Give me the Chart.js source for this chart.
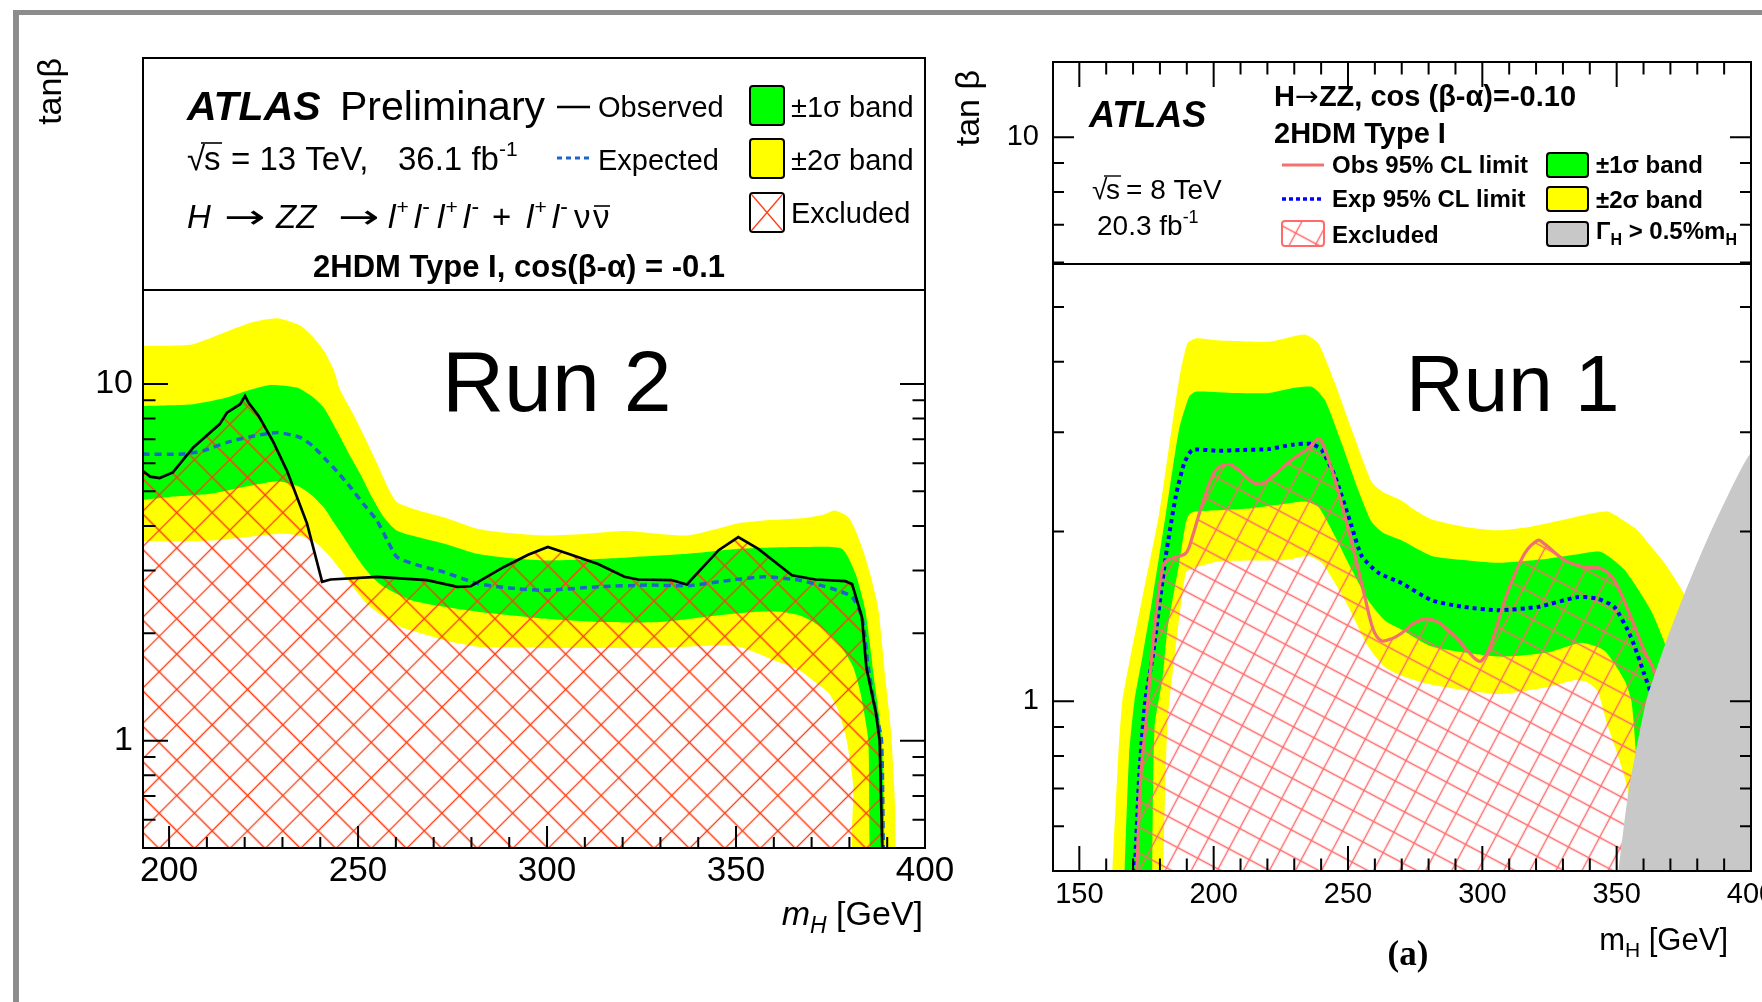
<!DOCTYPE html>
<html>
<head>
<meta charset="utf-8">
<script src="https://cdn.jsdelivr.net/npm/chart.js@4.4.1/dist/chart.umd.min.js"></script>
<style>
  html, body { margin: 0; padding: 0; background: #fff; }
  body { width: 1762px; height: 1002px; position: relative; overflow: hidden; }
  canvas { position: absolute; left: 0; top: 0; }
  #edge { position: absolute; left: 13px; top: 10px; width: 1800px; height: 1100px;
          border-top: 5px solid #8c8c8c; border-left: 6px solid #8c8c8c; }
</style>
</head>
<body>
<div id="edge"></div>
<canvas id="run2" width="1762" height="1002"></canvas>
<canvas id="run1" width="1762" height="1002"></canvas>
<script>
const F = '"Liberation Sans", Arial, Helvetica, sans-serif';
const TAN_FLOOR = 0.45;

// ---- Run 2: 13 TeV, 36.1 fb-1 — contours as [mH, tanβ] ----
const run2Obs = [[193,5.71],[195,5.5],[197.5,5.45],[201,5.65],[206.4,6.64],[213.4,7.72],[215.3,8.31],[218.8,8.78],[220.1,9.26],[221,8.87],[223.7,8.14],[227.5,6.9],[231.2,5.71],[236.5,4.06],[240.5,2.79],[242.7,2.83],[255,2.88],[268.3,2.82],[276.3,2.70],[279.8,2.71],[288.6,3.07],[295,3.32],[300.2,3.49],[306,3.33],[313.5,3.13],[320.5,2.88],[324.1,2.83],[332.9,2.82],[337,2.74],[345.4,3.42],[350.6,3.72],[355.9,3.45],[364.8,2.91],[371,2.83],[378.9,2.80],[380.7,2.75],[383.3,2.22],[384.5,1.6],[387,1.2],[388,1.0],[388.8,0.45]];
const run2Exp = [[193,6.36],[203.5,6.36],[209,6.5],[215.3,6.86],[221,7.1],[228.6,7.31],[234.7,7.08],[238,6.7],[241.8,6.09],[245,5.6],[248,5.13],[251.5,4.6],[255,4.14],[258,3.6],[260.3,3.27],[266,3.1],[272.7,2.97],[281.5,2.76],[290,2.68],[299.2,2.64],[313.5,2.70],[326.7,2.73],[337.3,2.72],[348.8,2.82],[357.7,2.88],[366.5,2.82],[375.4,2.67],[380.7,2.53],[383.3,2.22],[385,1.6],[387,1.2],[388.5,1.0],[389,0.45]];
const run2Band1Up = [[193,8.68],[206.4,8.78],[215.3,9.16],[221,9.6],[226.8,9.94],[233.8,9.77],[238,9.2],[240.9,8.59],[244.4,7.39],[247.5,6.4],[250.6,5.59],[253.5,4.85],[256.8,4.23],[260.3,3.88],[266,3.72],[272.7,3.57],[281.5,3.34],[290,3.25],[299.2,3.20],[310,3.22],[322.3,3.27],[337.3,3.34],[350.6,3.45],[360,3.48],[368.3,3.49],[378,3.45],[381.6,2.94],[384.2,2.32],[386.5,1.5],[388.6,1.0],[389,0.45]];
const run2Band1Down = [[193,4.73],[200,4.82],[210.9,4.92],[220,5.15],[228.6,5.34],[233.8,5.19],[237.5,4.9],[240.9,4.51],[243.5,4.1],[246.2,3.72],[249,3.35],[251.5,3.07],[254,2.86],[256.8,2.70],[263.8,2.48],[272,2.38],[281.5,2.30],[299.2,2.20],[314,2.15],[330,2.15],[345.9,2.25],[355.5,2.30],[362,2.30],[366.6,2.25],[370.5,2.15],[374.5,2.0],[378,1.82],[381,1.61],[383,1.35],[385,1.0],[385.7,0.45]];
const run2Band2Up = [[193,12.8],[200,12.8],[206,12.9],[215,14.0],[222,14.9],[228.6,15.3],[234.7,14.6],[238,13.6],[241,12.4],[243.5,11.0],[245.3,9.6],[248.8,8.2],[252,7.0],[255,6.0],[258,5.1],[260.3,4.66],[266,4.42],[272.7,4.23],[281.5,3.93],[290,3.82],[299,3.76],[310,3.80],[320.5,3.87],[330,3.80],[337.3,3.76],[344,3.90],[350.6,4.07],[360,4.16],[368.3,4.21],[373,4.30],[376.2,4.42],[379.8,4.23],[382,3.8],[384.2,3.27],[386,2.8],[387.7,2.32],[389.5,1.5],[391.2,1.0],[391.6,0.45]];
const run2Band2Down = [[193,3.63],[200,3.62],[210.9,3.64],[220,3.72],[228.6,3.80],[233,3.78],[237.5,3.68],[240,3.5],[242.7,3.27],[245.5,3.0],[248,2.76],[250.5,2.55],[253.3,2.37],[258,2.18],[262,2.07],[266.6,2.0],[274,1.9],[282.5,1.83],[298,1.82],[315,1.82],[330,1.82],[345.9,1.85],[351,1.83],[355.5,1.76],[360,1.68],[366.6,1.58],[370.5,1.47],[374.5,1.36],[377,1.22],[379.3,1.0],[381,0.75],[381.3,0.45]];
const run2XTicks = [200, 250, 300, 350, 400];
const run2YTicks = [1, 10];

// ---- Run 1: 8 TeV, 20.3 fb-1 ----
const run1Obs = [[171,0.45],[173,0.75],[174.8,0.914],[177.9,1.34],[181.0,1.73],[182.8,1.78],[189.6,1.83],[192.1,1.96],[195.8,2.24],[200.7,2.57],[205.6,2.63],[209.3,2.57],[214.3,2.45],[218.0,2.43],[221.7,2.50],[229.1,2.68],[235.3,2.81],[239.0,2.92],[240.8,2.85],[245.2,2.46],[251.4,1.91],[256.3,1.53],[259.4,1.34],[262.4,1.28],[266.2,1.29],[269.9,1.32],[274,1.37],[278.7,1.40],[283.7,1.38],[290,1.30],[299.7,1.18],[309.6,1.57],[315.8,1.83],[320.7,1.93],[323.2,1.90],[330.6,1.78],[338.0,1.73],[344.2,1.72],[349.1,1.64],[355.3,1.41],[360.2,1.23],[363.9,1.13],[366,0.9],[368,0.45]];
const run1Exp = [[170.2,0.45],[172.3,0.74],[174.5,1.0],[177.3,1.2],[182.2,1.81],[185.9,2.31],[189.0,2.64],[192.1,2.79],[201.9,2.78],[210,2.79],[220.4,2.80],[229.1,2.85],[236.5,2.86],[240.2,2.79],[245.2,2.50],[251.4,2.04],[255.1,1.81],[261.3,1.69],[269.9,1.62],[281.2,1.51],[293,1.47],[305.9,1.45],[320.7,1.47],[335.5,1.53],[342.9,1.52],[349.1,1.47],[355.3,1.30],[360.2,1.12],[362.7,1.03],[365,0.85],[367,0.45]];
const run1Band1Up = [[166.5,0.45],[168.5,0.8],[170.5,1.0],[173.5,1.2],[177.3,1.53],[182.2,2.15],[187.1,3.03],[190.9,3.47],[193.3,3.54],[208.1,3.52],[220.4,3.52],[229.1,3.59],[236.5,3.61],[241.4,3.42],[247.6,2.87],[253.8,2.37],[258.8,2.08],[263,1.99],[269.9,1.93],[281.2,1.81],[293,1.78],[305.9,1.76],[324.4,1.79],[335,1.82],[344.2,1.84],[352.9,1.71],[362.7,1.45],[368.9,1.23],[371.4,1.09],[375,0.8],[378,0.45]];
const run1Band1Down = [[177,0.45],[178,0.9],[181,1.1],[182.8,1.34],[187.2,1.76],[189.6,2.07],[191,2.15],[193.3,2.17],[214.3,2.20],[226.6,2.24],[234,2.26],[239,2.21],[245.2,1.96],[251.4,1.71],[257.5,1.51],[263.7,1.39],[269.9,1.34],[281.2,1.25],[305.9,1.20],[324.4,1.22],[336.8,1.27],[345.4,1.23],[352.9,1.09],[355.5,1.0],[357,0.83],[359,0.45]];
const run1Band2Up = [[161.8,0.45],[164.5,0.8],[166,1.0],[168.6,1.17],[173.5,1.53],[179.7,2.15],[183.4,2.83],[187.1,3.71],[190.2,4.31],[193.3,4.40],[201.9,4.36],[210,4.35],[220.4,4.34],[226.6,4.40],[234.0,4.47],[239.0,4.31],[245.2,3.66],[251.4,3.03],[258.8,2.45],[263,2.35],[269.9,2.27],[275,2.18],[281.2,2.10],[293,2.04],[305.9,2.01],[318,2.04],[330.6,2.10],[340,2.15],[346.7,2.17],[352,2.10],[357.8,2.01],[362,1.90],[367.7,1.76],[375.1,1.55],[381,1.3],[386,1.0],[390,0.45]];
const run1Band2Down = [[181,0.45],[182.8,0.914],[185.9,1.25],[189.6,1.69],[192.1,1.72],[201.9,1.77],[226.6,1.78],[235.3,1.81],[240.2,1.76],[248.9,1.51],[257.5,1.25],[263.7,1.15],[269.9,1.11],[281.2,1.07],[305.9,1.03],[324.4,1.06],[334.3,1.09],[339.2,1.08],[343,1.04],[346.5,0.91],[350.5,0.8],[354,0.7],[356,0.45]];
const run1WideHiggs = [[349.5,0.45],[354.4,0.69],[361,1.0],[368,1.26],[375.2,1.55],[386.5,2.07],[401,2.76],[401,0.45]];
const run1XTicks = [150, 200, 250, 300, 350, 400];
const run1YTicks = [1, 10];

const yMinorTicks = [0.6, 0.7, 0.8, 0.9, 2, 3, 4, 5, 6, 7, 8, 9, 20];

// ---- helpers ----
const pts = arr => arr.map(([x, y]) => ({ x, y }));
const ring = (up, down) => pts(up.concat(down.slice().reverse()));

function area(label, data, color, order, tension = 0.2) {
  return { label, data, order, fill: 'shape', backgroundColor: color, borderColor: 'rgba(0,0,0,0)',
           borderWidth: 0, pointRadius: 0, tension };
}
function curve(label, data, color, width, dash, order, tension) {
  return { label, data: pts(data), order, fill: false, borderColor: color, borderWidth: width,
           borderDash: dash, pointRadius: 0, tension, borderCapStyle: 'butt' };
}

function hatch(color, size, angle, lw) {
  const tile = document.createElement('canvas');
  tile.width = tile.height = size;
  const g = tile.getContext('2d');
  g.strokeStyle = color;
  g.lineWidth = lw;
  g.beginPath();
  g.moveTo(0, size / 2); g.lineTo(size, size / 2);
  g.moveTo(size / 2, 0); g.lineTo(size / 2, size);
  g.stroke();
  const p = g.createPattern(tile, 'repeat');
  p.setTransform(new DOMMatrix().rotate(angle));
  return p;
}
const hatchRun2 = hatch('#ff3d14', 25, 45, 1.3);
const hatchRun1 = hatch('#ff6a6a', 23, 28, 1.4);

// text runs: [text, font, dy, family, xstretch] or a number for extra gap
function put(ctx, x, y, parts) {
  for (const part of parts) {
    if (typeof part === 'number') { x += part; continue; }
    const [text, font, dy = 0, fam = F, sx = 1] = part;
    ctx.font = `${font} ${fam}`;
    ctx.save();
    ctx.translate(x, y + dy);
    ctx.scale(sx, 1);
    ctx.fillText(text, 0, 0);
    ctx.restore();
    x += ctx.measureText(text).width * sx;
  }
  return x;
}
function measure(ctx, parts) {
  let w = 0;
  for (const part of parts) {
    if (typeof part === 'number') { w += part; continue; }
    const [text, font, , fam = F, sx = 1] = part;
    ctx.font = `${font} ${fam}`;
    w += ctx.measureText(text).width * sx;
  }
  return w;
}
function hline(ctx, x1, x2, y, lw, color = '#000', dash = []) {
  ctx.save();
  ctx.strokeStyle = color; ctx.lineWidth = lw; ctx.setLineDash(dash);
  ctx.beginPath(); ctx.moveTo(x1, y); ctx.lineTo(x2, y); ctx.stroke();
  ctx.restore();
}
function swatch(ctx, x, y, w, h, fill, stroke) {
  ctx.save();
  ctx.beginPath();
  ctx.roundRect(x, y, w, h, 3);
  ctx.fillStyle = fill; ctx.fill();
  ctx.lineWidth = 2; ctx.strokeStyle = stroke; ctx.stroke();
  ctx.restore();
}
function vtitle(ctx, text, font, x, yEnd) {
  ctx.save();
  ctx.translate(x, yEnd);
  ctx.rotate(-Math.PI / 2);
  ctx.textAlign = 'right';
  ctx.font = `${font} ${F}`;
  ctx.fillText(text, 0, 0);
  ctx.restore();
}
function leptonPairs(n) {
  const out = [];
  for (let i = 0; i < n; i++) {
    out.push(['l', 'italic 34px'], 1, ['+', '21px', -14], 5, ['l', 'italic 34px'], 1, ['-', '23px', -14], 7);
  }
  return out;
}
const ARROW = ['→', '33px', 0, '"DejaVu Sans", sans-serif', 1.5];

// inward ROOT-style ticks and the frame
function frame(o) {
  return {
    id: 'frame',
    afterDatasetsDraw(chart) {
      const { ctx, chartArea: a } = chart;
      const xs = chart.scales.x, ys = chart.scales.y;
      ctx.save();
      ctx.strokeStyle = '#000';
      ctx.lineWidth = 2;
      ctx.beginPath();
      for (let v = Math.ceil(xs.min / 10) * 10; v < xs.max - 0.01; v += 10) {
        if (v <= xs.min) continue;
        const len = o.xMajorTicks.includes(v) ? o.xMajor : o.xMinor;
        const px = xs.getPixelForValue(v);
        ctx.moveTo(px, a.bottom); ctx.lineTo(px, a.bottom - len);
        if (o.topTicks) { ctx.moveTo(px, a.top); ctx.lineTo(px, a.top + len); }
      }
      for (const v of o.yMajorTicks.concat(yMinorTicks)) {
        if (v <= ys.min || v >= ys.max) continue;
        const len = o.yMajorTicks.includes(v) ? o.yMajor : o.yMinor;
        const py = ys.getPixelForValue(v);
        ctx.moveTo(a.left, py); ctx.lineTo(a.left + len, py);
        ctx.moveTo(a.right, py); ctx.lineTo(a.right - len, py);
      }
      ctx.stroke();
      const top = o.frameTop ?? a.top;
      ctx.strokeRect(a.left, top, a.right - a.left, a.bottom - top);
      ctx.beginPath();
      ctx.moveTo(a.left, o.sepY ?? a.top); ctx.lineTo(a.right, o.sepY ?? a.top);
      ctx.stroke();
      ctx.restore();
    }
  };
}

function axes(o) {
  return {
    x: {
      type: 'linear', min: o.xMin, max: o.xMax,
      afterFit(s) { s.height = o.xHeight; s.paddingLeft = 0; s.paddingRight = 0; },
      afterBuildTicks(s) { s.ticks = o.xTicks.map(v => ({ value: v })); },
      ticks: { color: '#000', font: { family: F, size: o.xFont }, padding: o.xPad,
               autoSkip: false, maxRotation: 0, callback: v => String(v) },
      grid: { display: false, drawTicks: false }, border: { display: false }
    },
    y: {
      type: 'logarithmic', min: o.yMin, max: o.yMax,
      afterFit(s) { s.width = o.yWidth; s.paddingTop = 0; s.paddingBottom = 0; },
      afterBuildTicks(s) { s.ticks = o.yTicks.map(v => ({ value: v })); },
      ticks: { color: '#000', font: { family: F, size: o.yFont }, padding: o.yPad,
               autoSkip: false, callback: v => String(v) },
      grid: { display: false, drawTicks: false }, border: { display: false }
    }
  };
}

// ---- Run 2 panel ----
const run2Text = {
  id: 'run2Text',
  afterDraw(chart) {
    const ctx = chart.ctx;
    ctx.save();
    ctx.fillStyle = '#000';
    ctx.textBaseline = 'alphabetic';
    put(ctx, 187, 120, [['ATLAS', 'italic bold 41px']]);
    put(ctx, 340, 120, [['Preliminary', '41px']]);

    put(ctx, 187, 170, [['√', '33px']]);
    put(ctx, 204, 170, [['s', '33px']]);
    hline(ctx, 201, 222, 143, 1.6);
    put(ctx, 231, 170, [['= 13 TeV,', '33px']]);
    put(ctx, 398, 170, [['36.1 fb', '33px'], ['-1', '21px', -14]]);

    put(ctx, 187, 228, [['H', 'italic 33px']]);
    put(ctx, 224, 228, [ARROW]);
    put(ctx, 276, 228, [['ZZ', 'italic 33px']]);
    put(ctx, 338, 228, [ARROW]);
    put(ctx, 388, 228, leptonPairs(2));
    put(ctx, 492, 228, [['+', '33px']]);
    put(ctx, 526, 228, leptonPairs(1));
    put(ctx, 574, 228, [['ν', '33px']]);
    put(ctx, 593, 228, [['ν', '33px']]);
    hline(ctx, 594, 610, 206, 1.6);

    put(ctx, 313, 277, [['2HDM Type I, cos(β-α) = -0.1', 'bold 31px']]);

    hline(ctx, 557, 590, 107, 2.5);
    put(ctx, 598, 117, [['Observed', '29px']]);
    hline(ctx, 557, 590, 158, 3, '#1e64c8', [5, 4]);
    put(ctx, 598, 170, [['Expected', '29px']]);

    swatch(ctx, 750, 86, 34, 39, '#00ff00', '#000');
    swatch(ctx, 750, 139, 34, 39, '#ffff00', '#000');
    swatch(ctx, 750, 193, 34, 39, '#ffffff', '#000');
    ctx.save();
    ctx.strokeStyle = '#ff3d14'; ctx.lineWidth = 1.3;
    ctx.beginPath();
    ctx.moveTo(752, 195); ctx.lineTo(782, 230);
    ctx.moveTo(782, 195); ctx.lineTo(752, 230);
    ctx.stroke();
    ctx.restore();
    put(ctx, 791, 117, [['±1σ band', '29px']]);
    put(ctx, 791, 170, [['±2σ band', '29px']]);
    put(ctx, 791, 223, [['Excluded', '29px']]);

    put(ctx, 442, 411, [['Run 2', '86px']]);

    vtitle(ctx, 'tanβ', '34px', 61, 58);
    const xt = [['m', 'italic 34px'], ['H', 'italic 23px', 8], [' [GeV]', '34px']];
    put(ctx, 923 - measure(ctx, xt), 925, xt);
    ctx.restore();
  }
};

new Chart(document.getElementById('run2'), {
  type: 'line',
  data: {
    datasets: [
      area('±2σ band', ring(run2Band2Up, run2Band2Down), '#ffff00', 10),
      area('±1σ band', ring(run2Band1Up, run2Band1Down), '#00ff00', 9),
      area('Excluded', pts(run2Obs.concat([[run2Obs[0][0], TAN_FLOOR]])), hatchRun2, 8, 0),
      curve('Expected', run2Exp, '#1e64c8', 3.5, [7, 5], 7, 0.2),
      curve('Observed', run2Obs, '#000', 2.7, [], 6, 0)
    ]
  },
  options: {
    responsive: false, animation: false,
    layout: { padding: { left: 0, right: 1762 - 925, top: 290, bottom: 0 } },
    plugins: { legend: { display: false }, tooltip: { enabled: false } },
    scales: axes({ xMin: 193.1, xMax: 400, yMin: 0.5, yMax: 18.35, xTicks: run2XTicks, yTicks: run2YTicks,
                   xHeight: 1002 - 848, yWidth: 143, xFont: 35, yFont: 34, xPad: 2, yPad: 10 })
  },
  plugins: [frame({ xMajorTicks: run2XTicks, yMajorTicks: run2YTicks, xMajor: 22, xMinor: 11,
                    yMajor: 25, yMinor: 12.5, topTicks: false, frameTop: 58 }), run2Text]
});

// ---- Run 1 panel ----
const run1Text = {
  id: 'run1Text',
  afterDraw(chart) {
    const ctx = chart.ctx;
    ctx.save();
    ctx.fillStyle = '#000';
    ctx.textBaseline = 'alphabetic';
    put(ctx, 1089, 127, [['ATLAS', 'italic bold 36px']]);
    put(ctx, 1092, 199, [['√', '28px']]);
    put(ctx, 1106, 199, [['s', '28px']]);
    hline(ctx, 1104, 1121, 176, 1.4);
    put(ctx, 1126, 199, [['= 8 TeV', '28px']]);
    put(ctx, 1097, 235, [['20.3 fb', '28px'], ['-1', '18px', -12]]);

    put(ctx, 1274, 106, [['H', 'bold 29px'], ['→', '26px', -1, '"DejaVu Sans", sans-serif', 1.1],
                         ['ZZ, cos (β-α)=-0.10', 'bold 29px']]);
    put(ctx, 1274, 143, [['2HDM Type I', 'bold 29px']]);

    hline(ctx, 1282, 1324, 165, 3, '#f27272');
    put(ctx, 1332, 173, [['Obs 95% CL limit', 'bold 24px']]);
    hline(ctx, 1282, 1324, 199, 3.5, '#0000ff', [4, 3]);
    put(ctx, 1332, 207, [['Exp 95% CL limit', 'bold 24px']]);
    swatch(ctx, 1282, 221, 42, 25, hatchRun1, '#ff6a6a');
    put(ctx, 1332, 243, [['Excluded', 'bold 24px']]);

    swatch(ctx, 1547, 153, 41, 24, '#00ff00', '#000');
    swatch(ctx, 1547, 187, 41, 24, '#ffff00', '#000');
    swatch(ctx, 1547, 222, 41, 24, '#c8c8c8', '#000');
    put(ctx, 1596, 173, [['±1σ band', 'bold 24px']]);
    put(ctx, 1596, 208, [['±2σ band', 'bold 24px']]);
    put(ctx, 1596, 239, [['Γ', 'bold 24px'], ['H', 'bold 16px', 6], [' > 0.5%m', 'bold 24px'], ['H', 'bold 16px', 6]]);

    put(ctx, 1406, 411, [['Run 1', '80px']]);

    vtitle(ctx, 'tan β', '34px', 979, 70);
    const xt = [['m', '31px'], ['H', '21px', 7], [' [GeV]', '31px']];
    put(ctx, 1728 - measure(ctx, xt), 950, xt);
    ctx.textAlign = 'center';
    ctx.font = 'bold 35px "Liberation Serif", "Times New Roman", serif';
    ctx.fillText('(a)', 1408, 965);
    ctx.restore();
  }
};

new Chart(document.getElementById('run1'), {
  type: 'line',
  data: {
    datasets: [
      area('±2σ band', ring(run1Band2Up, run1Band2Down), '#ffff00', 10),
      area('±1σ band', ring(run1Band1Up, run1Band1Down), '#00ff00', 9),
      area('Excluded', pts(run1Obs), hatchRun1, 8, 0.3),
      curve('Exp 95% CL limit', run1Exp, '#0000ff', 4, [4, 4], 7, 0.2),
      curve('Obs 95% CL limit', run1Obs, '#f07070', 3.2, [], 6, 0.3),
      area('ΓH > 0.5%mH', pts(run1WideHiggs), '#c8c8c8', 5, 0.2)
    ]
  },
  options: {
    responsive: false, animation: false,
    layout: { padding: { left: 950, right: 1762 - 1751, top: 62, bottom: 0 } },
    plugins: { legend: { display: false }, tooltip: { enabled: false } },
    scales: axes({ xMin: 140.2, xMax: 400, yMin: 0.5, yMax: 13.6, xTicks: run1XTicks, yTicks: run1YTicks,
                   xHeight: 1002 - 871, yWidth: 103, xFont: 29, yFont: 29, xPad: 7, yPad: 14 })
  },
  plugins: [frame({ xMajorTicks: run1XTicks, yMajorTicks: run1YTicks, xMajor: 25, xMinor: 12.5,
                    yMajor: 21, yMinor: 11, topTicks: true, sepY: 264 }), run1Text]
});
</script>
</body>
</html>
